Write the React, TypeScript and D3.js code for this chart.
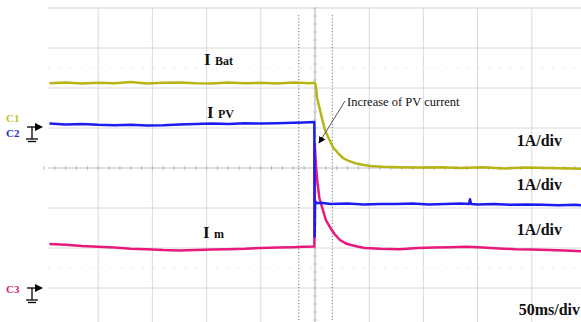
import React from 'react'
import * as d3 from 'd3'

// time in ms (50ms/div), value in divisions (0 = screen centre)
const batTime = [5, 20, 35, 50, 65, 80, 95, 110, 125, 140, 155, 170, 185, 200, 215, 230, 245, 249.5, 250.5, 252, 254.6, 257, 259.2, 262, 266.6, 271, 275.8, 281, 287, 294, 301, 312, 328, 345, 365, 385, 405, 425, 445, 465, 485, 496]
const batVal = [2.12, 2.14, 2.11, 2.13, 2.12, 2.15, 2.11, 2.13, 2.14, 2.12, 2.11, 2.14, 2.12, 2.13, 2.11, 2.14, 2.12, 2.13, 2.1, 1.75, 1.45, 1.18, 0.95, 0.78, 0.52, 0.38, 0.25, 0.18, 0.12, 0.08, 0.05, 0.03, 0.02, 0.01, 0.02, 0.0, 0.02, -0.01, 0.01, 0.0, -0.01, -0.02]

const pvTime = [5, 20, 35, 50, 65, 80, 95, 110, 125, 140, 155, 170, 185, 200, 215, 230, 240, 249.4, 249.7, 250.1, 252, 255, 265, 280, 295, 310, 325, 340, 355, 370, 385, 392, 393, 394, 400, 415, 430, 445, 460, 475, 490, 496]
const pvVal = [1.11, 1.09, 1.1, 1.08, 1.07, 1.08, 1.06, 1.07, 1.09, 1.1, 1.11, 1.1, 1.12, 1.11, 1.12, 1.13, 1.14, 1.15, -1.72, -0.84, -0.88, -0.87, -0.9, -0.89, -0.91, -0.9, -0.9, -0.89, -0.91, -0.9, -0.89, -0.9, -0.78, -0.9, -0.91, -0.9, -0.92, -0.91, -0.92, -0.93, -0.92, -0.93]

const mTime = [5, 20, 35, 50, 65, 80, 95, 110, 125, 140, 155, 170, 185, 200, 215, 230, 240, 249.4, 249.7, 250.8, 252, 254, 256.5, 260, 263.8, 268, 273, 278, 282.3, 290, 296, 310, 328, 345, 360, 375, 390, 405, 420, 435, 450, 465, 480, 496]
const mVal = [-1.9, -1.92, -1.95, -1.97, -1.99, -2.02, -2.03, -2.05, -2.06, -2.05, -2.04, -2.03, -2.02, -2.0, -1.99, -1.98, -1.97, -1.96, 0.6, 0.1, -0.3, -0.75, -0.98, -1.3, -1.48, -1.65, -1.8, -1.88, -1.92, -1.97, -2.0, -2.02, -2.03, -2.0, -1.99, -1.98, -1.97, -1.99, -2.01, -2.03, -2.04, -2.05, -2.06, -2.08]

const timeTicks = d3.range(0, 501, 50)
const divTicks = d3.range(-4, 5, 1)
const cursorTimes = [235, 266]
const dottedLevels = [2.5, -2.5]
const scaleLabels = ['1A/div', '1A/div', '1A/div', '50ms/div']

const W = 581
const H = 322
const serif = '"Liberation Serif", "Times New Roman", serif'

const x = d3.scaleLinear().domain([0, 500]).range([44, 586])
const y = d3.scaleLinear().domain([4, -4]).range([8, 328])

const line = d3
  .line<[number, number]>()
  .x(d => x(d[0]))
  .y(d => y(d[1]))

const zip = (t: number[], v: number[]) => t.map((tt, i) => [tt, v[i]] as [number, number])

function Ground({cx, cy}: {cx: number; cy: number}) {
  return (
    <g stroke="#000" strokeWidth={1.3}>
      <line x1={cx - 5} x2={cx + 5} y1={cy} y2={cy} />
      <line x1={cx} x2={cx} y1={cy} y2={cy + 12} />
      <line x1={cx - 6} x2={cx + 6} y1={cy + 12} y2={cy + 12} />
      <line x1={cx - 4} x2={cx + 4} y1={cy + 14.5} y2={cy + 14.5} />
      <path d={`M${cx + 3},${cy - 4}L${cx + 11},${cy}L${cx + 3},${cy + 4}Z`} fill="#000" stroke="none" />
    </g>
  )
}

export default function App() {
  const cx = x(250)
  const cy = y(0)
  const minorT = d3.range(0, 500.1, 10)
  const minorV = d3.range(-4, 4.01, 0.2)
  const labelY = [146, 190, 235, 315]
  return (
    <svg width={W} height={H} style={{position: 'absolute', left: 0, top: 0, background: '#fff'}}>
      <defs>
        <marker id="ah" viewBox="0 0 10 10" refX="9" refY="5" markerWidth="7" markerHeight="7" orient="auto">
          <path d="M0,0L10,5L0,10Z" fill="#000" />
        </marker>
      </defs>
      {/* grid */}
      <g>
        {divTicks.map(v => (
          <line key={'h' + v} x1={48} x2={W} y1={y(v)} y2={y(v)} stroke={v === 0 ? '#bdbdbd' : v === 4 ? '#cfcfcf' : '#dadada'} strokeWidth={1} />
        ))}
        {timeTicks
          .filter(t => t > 0 && t < 500)
          .map(t => (
            <line key={'v' + t} x1={x(t)} x2={x(t)} y1={y(4)} y2={H} stroke={t === 250 ? '#a8a8a8' : '#dadada'} strokeWidth={1} />
          ))}
        {dottedLevels.map(v => (
          <line key={'d' + v} x1={48} x2={W} y1={y(v)} y2={y(v)} stroke="#e2e2e2" strokeDasharray="1.5 9" />
        ))}
        {minorT.map(t => (
          <line key={'mt' + t} x1={x(t)} x2={x(t)} y1={cy - 2} y2={cy + 2} stroke="#b5b5b5" />
        ))}
        {minorV.map(v => (
          <line key={'mv' + v} x1={cx - 2} x2={cx + 2} y1={y(v)} y2={y(v)} stroke="#c5c5c5" />
        ))}
        {cursorTimes.map(t => (
          <line key={'c' + t} x1={x(t)} x2={x(t)} y1={15} y2={H} stroke="#777" strokeDasharray="1.2 2" strokeWidth={1} />
        ))}
      </g>
      {/* traces */}
      <path d={line(zip(batTime, batVal)) || ''} fill="none" stroke="#b8b416" strokeWidth={2.5} strokeLinejoin="round" />
      <path d={line(zip(mTime, mVal)) || ''} fill="none" stroke="#e8187c" strokeWidth={2.5} strokeLinejoin="round" />
      <path d={line(zip(pvTime, pvVal)) || ''} fill="none" stroke="#1c1cf0" strokeWidth={2.5} strokeLinejoin="round" />
      {/* trace names */}
      <g fontFamily={serif} fontWeight="bold" fill="#111">
        <text x={204} y={65} fontSize={17}>I</text>
        <text x={215} y={65} fontSize={12}>Bat</text>
        <text x={207} y={118} fontSize={17}>I</text>
        <text x={218} y={118} fontSize={12}>PV</text>
        <text x={203} y={238} fontSize={17}>I</text>
        <text x={214} y={238} fontSize={12}>m</text>
      </g>
      {/* annotation */}
      <line x1={345} y1={101} x2={319} y2={143} stroke="#555" strokeWidth={1} markerEnd="url(#ah)" />
      <text x={347} y={106} fontFamily={serif} fontSize={12.5} fill="#111">Increase of PV current</text>
      {/* scale labels */}
      <g fontFamily={serif} fontWeight="bold" fontSize={16} fill="#111" textAnchor="end">
        {scaleLabels.map((s, i) => (
          <text key={i} x={i === 3 ? 580 : 562} y={labelY[i]}>{s}</text>
        ))}
      </g>
      {/* channel markers */}
      <g fontFamily={serif} fontWeight="bold" fontSize={11}>
        <text x={6} y={122} fill="#c4c21c">C1</text>
        <text x={6} y={137} fill="#2233cc">C2</text>
        <text x={6} y={293} fill="#d3247a">C3</text>
      </g>
      <Ground cx={32} cy={127} />
      <Ground cx={32} cy={288} />
    </svg>
  )
}
